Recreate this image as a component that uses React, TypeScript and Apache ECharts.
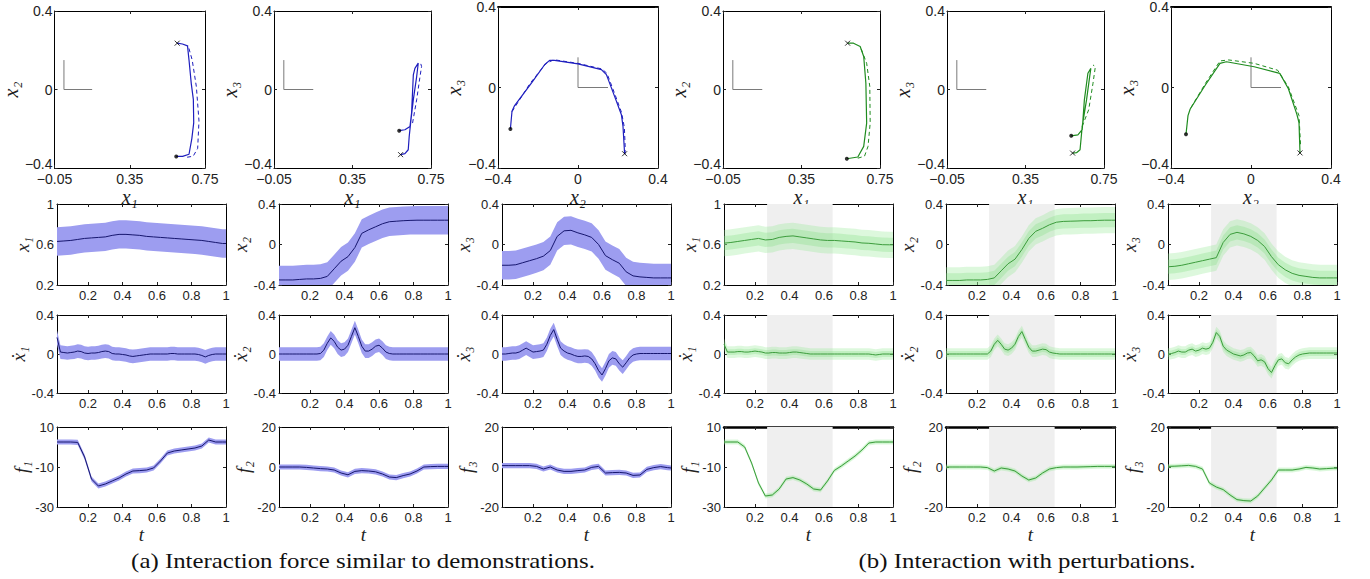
import React, { useEffect, useRef } from "react";
import * as echarts from "echarts";

// ---------------- data ----------------
// time grids
const TP = [0.02, 0.06, 0.10, 0.14, 0.18, 0.22, 0.26, 0.30, 0.34, 0.38, 0.42, 0.46, 0.50, 0.54, 0.58, 0.62, 0.66, 0.70, 0.74, 0.78, 0.82, 0.86, 0.90, 0.94, 0.98, 1.00];
const TV = [0.02, 0.04, 0.06, 0.08, 0.10, 0.12, 0.14, 0.16, 0.18, 0.20, 0.22, 0.24, 0.26, 0.28, 0.30, 0.32, 0.34, 0.36, 0.38, 0.40, 0.42, 0.44, 0.46, 0.48, 0.50, 0.52, 0.54, 0.56, 0.58, 0.60, 0.62, 0.64, 0.66, 0.68, 0.70, 0.72, 0.74, 0.76, 0.78, 0.80, 0.82, 0.84, 0.86, 0.88, 0.90, 0.92, 0.94, 0.96, 0.98, 1.00];

// tick labels
const TOP_XT_A = [-0.05, 0.35, 0.75];
const TOP_XT_B = [-0.4, 0, 0.4];
const TOP_YT = [-0.4, 0, 0.4];
const T_TICKS = [0.2, 0.4, 0.6, 0.8, 1];
const POS1_TICKS = [0.2, 0.6, 1];
const POS_TICKS = [-0.4, 0, 0.4];
const VEL_TICKS = [-0.4, 0, 0.4];
const F1_TICKS = [-30, -10, 10];
const F_TICKS = [-20, 0, 20];

// perturbation window (grey region)
const SHADE = [0.27, 0.65];

// reference frame drawn in the trajectory plots
const FRAME = [[0, 0.15], [0, 0], [0.15, 0]];

// (a) trajectories: solid = executed, dashed = reference
const trajA12 = [[0.597, -0.341], [0.631, -0.341], [0.665, -0.33], [0.68, -0.25], [0.69, -0.17], [0.688, -0.05], [0.677, 0.03], [0.665, 0.15], [0.657, 0.222], [0.63, 0.232], [0.602, 0.236]];
const refA12 = [[0.655, -0.345], [0.687, -0.34], [0.711, -0.3], [0.718, -0.16], [0.704, 0.015], [0.682, 0.15], [0.66, 0.225]];
const trajA13 = [[0.588, -0.21], [0.617, -0.205], [0.643, -0.188], [0.651, -0.12], [0.66, 0.075], [0.668, 0.108], [0.685, 0.134], [0.677, 0.066], [0.66, -0.052], [0.648, -0.154], [0.639, -0.239], [0.634, -0.307], [0.617, -0.327], [0.595, -0.332]];
const refA13 = [[0.656, -0.171], [0.677, -0.052], [0.694, 0.066], [0.702, 0.117], [0.697, 0.134], [0.685, 0.134]];
const trajA23 = [[-0.338, -0.206], [-0.33, -0.118], [-0.317, -0.09], [-0.233, 0.022], [-0.167, 0.113], [-0.142, 0.135], [-0.117, 0.135], [0, 0.117], [0.117, 0.089], [0.142, 0.064], [0.183, -0.044], [0.217, -0.135], [0.225, -0.193], [0.233, -0.329]];
const refA23 = [[-0.33, -0.12], [-0.24, 0.02], [-0.16, 0.12], [-0.12, 0.138], [0, 0.12], [0.12, 0.092], [0.145, 0.07], [0.185, -0.035], [0.218, -0.125], [0.232, -0.2], [0.236, -0.3], [0.235, -0.33]];

// (b) trajectories
const trajB12 = [[0.581, -0.353], [0.637, -0.344], [0.667, -0.29], [0.682, -0.171], [0.678, 0.032], [0.667, 0.168], [0.649, 0.219], [0.615, 0.236], [0.585, 0.236]];
const refB12 = [[0.637, -0.35], [0.671, -0.34], [0.689, -0.29], [0.70, -0.171], [0.698, 0.015], [0.682, 0.134], [0.649, 0.219]];
const trajB13 = [[0.583, -0.236], [0.617, -0.231], [0.639, -0.205], [0.65, -0.053], [0.668, 0.083], [0.683, 0.108], [0.677, 0.066], [0.661, -0.053], [0.639, -0.188], [0.628, -0.307], [0.61, -0.322], [0.59, -0.324]];
const refB13 = [[0.639, -0.188], [0.672, -0.103], [0.694, 0.032], [0.706, 0.117], [0.694, 0.125]];
const trajB23 = [[-0.325, -0.232], [-0.315, -0.14], [-0.304, -0.107], [-0.229, 0.011], [-0.155, 0.12], [-0.123, 0.128], [0.016, 0.103], [0.144, 0.07], [0.187, -0.006], [0.229, -0.132], [0.24, -0.174], [0.245, -0.325]];
const refB23 = [[-0.30, -0.1], [-0.229, 0.019], [-0.155, 0.132], [-0.112, 0.137], [0.016, 0.12], [0.133, 0.086], [0.187, 0.003], [0.24, -0.14], [0.248, -0.29]];

// (a) positions (on TP)
const x1A = [0.63, 0.635, 0.64, 0.65, 0.66, 0.665, 0.67, 0.675, 0.69, 0.70, 0.70, 0.695, 0.69, 0.68, 0.675, 0.67, 0.665, 0.66, 0.655, 0.65, 0.645, 0.64, 0.63, 0.62, 0.61, 0.61];
const x2A = [-0.35, -0.35, -0.35, -0.345, -0.34, -0.34, -0.335, -0.315, -0.24, -0.165, -0.12, -0.03, 0.11, 0.145, 0.175, 0.205, 0.225, 0.23, 0.235, 0.238, 0.24, 0.24, 0.24, 0.24, 0.24, 0.24];
const x3A = [-0.205, -0.205, -0.2, -0.18, -0.16, -0.14, -0.115, -0.06, 0.08, 0.135, 0.14, 0.115, 0.095, 0.07, 0.0, -0.11, -0.15, -0.185, -0.27, -0.31, -0.32, -0.325, -0.33, -0.33, -0.33, -0.33];
// (a) velocities (on TV)
const v1A = [0.17, 0.02, 0.015, 0.01, 0.015, 0.02, 0.03, 0.025, 0.01, 0.005, 0.01, 0.01, 0.015, 0.025, 0.03, 0.025, 0.005, 0.0, 0.0, -0.005, -0.01, -0.02, -0.025, -0.02, -0.015, -0.01, -0.005, 0.0, 0.0, 0.0, 0.0, 0.0, 0.0, 0.005, 0.005, 0.0, 0.0, 0.0, 0.0, 0.0, 0.0, -0.005, -0.015, -0.03, -0.015, -0.005, 0.0, 0.0, 0.0, 0.0];
const v2A = [0, 0, 0, 0, 0, 0, 0, 0, 0, 0, 0, 0, 0.005, 0.04, 0.11, 0.165, 0.13, 0.07, 0.04, 0.05, 0.09, 0.18, 0.27, 0.18, 0.08, 0.03, 0.03, 0.05, 0.08, 0.09, 0.06, 0.02, 0.005, 0, 0, 0, 0, 0, 0, 0, 0, 0, 0, 0, 0, 0, 0, 0, 0, 0];
const v3A = [0, 0, 0.005, 0.01, 0.01, 0.02, 0.04, 0.06, 0.04, 0.02, 0.025, 0.03, 0.04, 0.1, 0.19, 0.25, 0.15, 0.06, 0.03, 0.01, 0.0, -0.015, -0.025, -0.025, -0.02, -0.025, -0.05, -0.1, -0.17, -0.215, -0.15, -0.07, -0.04, -0.05, -0.1, -0.135, -0.09, -0.04, -0.01, 0.0, 0.005, 0.005, 0.005, 0.005, 0.005, 0.005, 0.005, 0.005, 0.005, 0.005];
// (a) forces (on TP)
const f1A = [2.5, 2.5, 2.5, 2.3, -5, -16, -19.5, -18.5, -17, -15.5, -13.5, -12, -11.8, -11.5, -10.5, -7, -3, -2, -1.5, -1, -0.5, 0.5, 3.5, 2.5, 2.5, 2.5];
const f2A = [0, 0, 0, 0, -0.2, -0.5, -0.8, -1, -1.5, -3, -3.9, -2.2, -1.8, -2, -2.4, -3.5, -5, -5.3, -4.3, -3.5, -2, 0, 0.2, 0.3, 0.3, 0.3];
const f3A = [0.7, 0.7, 0.7, 0.7, 0.7, 0.3, -1, 0, -1.5, -2.2, -2.2, -1.8, -1.5, -0.2, 0.3, -3, -2.8, -2.7, -3, -4.2, -4, -1.2, -0.3, 0.2, -0.3, -0.5];

// (b) positions (on TP)
const x1B = [0.613, 0.62, 0.63, 0.64, 0.65, 0.66, 0.645, 0.65, 0.67, 0.68, 0.685, 0.675, 0.665, 0.655, 0.645, 0.64, 0.64, 0.635, 0.63, 0.625, 0.615, 0.612, 0.605, 0.598, 0.597, 0.597];
const x2B = [-0.355, -0.355, -0.355, -0.35, -0.35, -0.35, -0.345, -0.33, -0.26, -0.19, -0.145, -0.05, 0.06, 0.13, 0.16, 0.195, 0.22, 0.228, 0.23, 0.232, 0.235, 0.235, 0.238, 0.24, 0.24, 0.24];
const x3B = [-0.22, -0.215, -0.205, -0.19, -0.175, -0.16, -0.145, -0.13, 0.02, 0.1, 0.12, 0.105, 0.08, 0.04, -0.02, -0.12, -0.2, -0.25, -0.285, -0.305, -0.315, -0.325, -0.33, -0.33, -0.33, -0.33];
// (b) velocities (on TV)
const v1B = [0.1, 0.02, 0.02, 0.02, 0.025, 0.025, 0.02, 0.02, 0.025, 0.03, 0.025, 0.02, 0.01, 0.01, 0.015, 0.015, 0.01, 0.01, 0.01, 0.015, 0.02, 0.02, 0.015, 0.01, 0.005, 0, 0, 0, 0, 0, 0, 0, 0, 0, 0, 0, 0, 0, 0, 0, 0, 0, 0, -0.005, -0.01, -0.005, 0, 0, 0, 0];
const v2B = [0, 0, 0, 0, 0, 0, 0, 0, 0, 0, 0, 0, 0, 0.03, 0.1, 0.14, 0.1, 0.05, 0.04, 0.06, 0.1, 0.18, 0.23, 0.15, 0.07, 0.03, 0.03, 0.04, 0.05, 0.045, 0.02, 0.01, 0.005, 0, 0, 0, 0, 0, 0, 0, 0, 0, 0, 0, 0, 0, 0, 0, 0, 0];
const v3B = [0, 0.005, 0.015, 0.03, 0.02, 0.02, 0.04, 0.05, 0.03, 0.04, 0.06, 0.05, 0.06, 0.12, 0.22, 0.18, 0.08, 0.04, 0.02, 0.0, -0.01, -0.02, -0.01, 0.01, 0.015, -0.02, -0.07, -0.06, -0.08, -0.15, -0.19, -0.12, -0.06, -0.05, -0.09, -0.1, -0.06, -0.03, -0.01, 0.0, 0.005, 0.01, 0.01, 0.01, 0.01, 0.01, 0.01, 0.01, 0.01, 0.01];
// (b) forces (on TP)
const f1B = [2.5, 2.5, 2.5, 0, -8, -18, -24.5, -24, -21, -16, -15.3, -16.5, -18.5, -21, -21.5, -17, -11.7, -9.5, -7, -4.5, -1.5, 2, 2.5, 2.5, 2.5, 2.5];
const f2B = [0, 0, 0, 0, 0, 0, -0.3, -2, -0.5, -1, -2, -4.5, -6.5, -5.5, -3, -1, -0.3, 0, 0, 0, 0.1, 0.2, 0.3, 0.3, 0.3, 0.3];
const f3B = [0.3, 0.4, 0.6, 0.8, 0.3, -1, -8, -10, -11.3, -14, -16.3, -16.8, -17, -14.5, -10.5, -6.5, -1.5, -1.5, -1.5, -1, -0.2, -0.5, -1, -0.8, -0.6, -0.6];

// band half-widths per row (positions, velocities, forces)
const BAND_A = [0.14, 0.07, 1.3];
const BAND_B_OUT = [0.13, 0.06, 1.2];
const BAND_B_IN = [0.07, 0.03, 0.6];

// ---------------- styling / layout ----------------
const BLUE_TRAJ = "#1e1ebe";
const GREEN_TRAJ = "#1f8c1f";
const BLUE_BAND = "#9d9df0";
const BLUE_LINE = "#16166e";
const GREEN_BAND_OUT = "rgba(150,232,150,0.32)";
const GREEN_BAND_IN = "rgba(130,222,130,0.30)";
const GREEN_LINE = "#3c9c3c";
const SANS = "'Liberation Sans', Arial, Helvetica, sans-serif";
const SERIF = "'Liberation Serif', 'Times New Roman', 'DejaVu Serif', serif";

const TOP_RECTS = [
  [48, 11, 157, 157],
  [274, 11, 157, 157],
  [498, 7, 160, 161],
  [723, 11, 157, 157],
  [947, 11, 157, 157],
  [1171, 7, 160, 161],
];
const COL_LEFT = [57, 279, 502, 724, 946, 1168];
const ROW_TOP = [204, 315, 427];
const ROW_H = [81, 78, 80];
const PLOT_W = 169;

const fmtTop = (v: number) => (v < 0 ? "\u2212" + String(-v) : String(v));
const fmtTopY = (v: number) => (v === TOP_YT[0] ? "{lo|" + fmtTop(v) + "}" : fmtTop(v));
const fmtRow = (v: number) => String(v);

function buildOption() {
  const grid: any[] = [];
  const xAxis: any[] = [];
  const yAxis: any[] = [];
  const series: any[] = [];

  function addPanel(rect: number[], xr: number[], yr: number[], xt: number[], yt: number[], fmtX: (v: number) => string, fmtY: (v: number) => string, fs: number, xname: string, yname: string, nc: any) {
    const g = grid.length;
    grid.push({ left: rect[0], top: rect[1], width: rect[2], height: rect[3] });
    const tick = (vals: number[]) => ({ show: true, inside: true, length: 3, customValues: vals, lineStyle: { color: "#222", width: 1 } });
    const line = { show: true, onZero: false, lineStyle: { color: "#000", width: 1 } };
    const topLine = { show: true, onZero: false, lineStyle: { color: "#000", width: nc.topW || 1 } };
    const nameStyle = { fontFamily: SERIF, fontStyle: "italic", fontSize: nc.size, color: "#222", lineHeight: nc.nlh };
    const lab = (vals: number[], margin: number, lh: number, fmt: (v: number) => string) => ({
      customValues: vals, formatter: fmt, fontSize: fs, lineHeight: lh, fontFamily: SANS, color: "#222", margin,
      rich: { lo: { fontSize: fs, lineHeight: lh, fontFamily: SANS, color: "#222", padding: [0, 0, 8, 0] } },
    });
    xAxis.push({ gridIndex: g, type: "value", min: xr[0], max: xr[1], position: "bottom", axisLine: line, axisTick: tick(xt), splitLine: { show: false }, axisLabel: lab(xt, nc.xm, nc.xlh, fmtX), name: xname, nameLocation: "middle", nameGap: nc.xg, nameTextStyle: nameStyle });
    xAxis.push({ gridIndex: g, type: "value", min: xr[0], max: xr[1], position: "top", axisLine: topLine, axisTick: tick(xt), axisLabel: { show: false }, splitLine: { show: false } });
    yAxis.push({ gridIndex: g, type: "value", min: yr[0], max: yr[1], position: "left", axisLine: line, axisTick: tick(yt), splitLine: { show: false }, axisLabel: lab(yt, nc.ym, nc.ylh, fmtY), name: yname, nameLocation: "middle", nameRotate: 90, nameGap: nc.yg, nameTextStyle: nameStyle });
    yAxis.push({ gridIndex: g, type: "value", min: yr[0], max: yr[1], position: "right", axisLine: line, axisTick: tick(yt), axisLabel: { show: false }, splitLine: { show: false } });
    return g;
  }

  const ax = (g: number) => ({ xAxisIndex: 2 * g, yAxisIndex: 2 * g });

  // band between mean-half and mean+half, drawn through the axes' scales
  function band(g: number, t: number[], mean: number[], half: number, color: string, z: number) {
    const lower = mean.map((m) => m - half);
    const upper = mean.map((m) => m + half);
    series.push({
      type: "custom",
      ...ax(g),
      coordinateSystem: "cartesian2d",
      data: [[t[0], mean[0]]],
      silent: true,
      clip: true,
      z,
      renderItem: (params: any, api: any) => {
        const pts: number[][] = [];
        for (let i = 0; i < t.length; i++) pts.push(api.coord([t[i], upper[i]]));
        for (let i = t.length - 1; i >= 0; i--) pts.push(api.coord([t[i], lower[i]]));
        const cs = params.coordSys;
        return {
          type: "polygon",
          shape: { points: pts },
          style: { fill: color },
          clipPath: { type: "rect", shape: { x: cs.x, y: cs.y, width: cs.width, height: cs.height } },
        };
      },
    });
  }

  // ---- top row: trajectories ----
  const topPanels = [
    { traj: trajA12, ref: refA12, xt: TOP_XT_A, xn: "x\u2081", yn: "x\u2082", c: BLUE_TRAJ },
    { traj: trajA13, ref: refA13, xt: TOP_XT_A, xn: "x\u2081", yn: "x\u2083", c: BLUE_TRAJ },
    { traj: trajA23, ref: refA23, xt: TOP_XT_B, xn: "x\u2082", yn: "x\u2083", c: BLUE_TRAJ },
    { traj: trajB12, ref: refB12, xt: TOP_XT_A, xn: "x\u2081", yn: "x\u2082", c: GREEN_TRAJ },
    { traj: trajB13, ref: refB13, xt: TOP_XT_A, xn: "x\u2081", yn: "x\u2083", c: GREEN_TRAJ },
    { traj: trajB23, ref: refB23, xt: TOP_XT_B, xn: "x\u2082", yn: "x\u2083", c: GREEN_TRAJ },
  ];
  topPanels.forEach((p, i) => {
    const xr = [p.xt[0], p.xt[p.xt.length - 1]];
    const g = addPanel(TOP_RECTS[i], xr, [TOP_YT[0], TOP_YT[2]], p.xt, TOP_YT, fmtTop, fmtTopY, 14, p.xn, p.yn, { size: 20, nlh: 14, xg: 18, yg: 24, xm: 4, ym: 2, xlh: 14, ylh: 14, topW: i === 2 || i === 5 ? 1.8 : 1 });
    series.push({ type: "line", ...ax(g), data: FRAME, symbol: "none", lineStyle: { color: "#7a7a7a", width: 1 }, silent: true, z: 2 });
    series.push({ type: "line", ...ax(g), data: p.ref, symbol: "none", lineStyle: { color: p.c, width: 1, type: [4, 3] }, silent: true, z: 3 });
    series.push({ type: "line", ...ax(g), data: p.traj, symbol: "none", lineStyle: { color: p.c, width: 1.2 }, silent: true, z: 4 });
    series.push({ type: "scatter", ...ax(g), data: [p.traj[0]], symbol: "circle", symbolSize: 4, itemStyle: { color: "#000" }, silent: true, z: 5 });
    series.push({ type: "scatter", ...ax(g), data: [p.traj[p.traj.length - 1]], symbol: "path://M0 0L10 10M10 0L0 10", symbolSize: 5, itemStyle: { color: "none", borderColor: "#000", borderWidth: 1 }, silent: true, z: 5 });
  });

  // ---- rows 2-4: time series ----
  const rows = [
    { t: TP, a: [x1A, x2A, x3A], b: [x1B, x2B, x3B], names: ["x\u2081", "x\u2082", "x\u2083"], yr: [[0.2, 1], [-0.4, 0.4], [-0.4, 0.4]], yt: [POS1_TICKS, POS_TICKS, POS_TICKS] },
    { t: TV, a: [v1A, v2A, v3A], b: [v1B, v2B, v3B], names: ["x\u0307\u2081", "x\u0307\u2082", "x\u0307\u2083"], yr: [[-0.4, 0.4], [-0.4, 0.4], [-0.4, 0.4]], yt: [VEL_TICKS, VEL_TICKS, VEL_TICKS] },
    { t: TP, a: [f1A, f2A, f3A], b: [f1B, f2B, f3B], names: ["f\u2081", "f\u2082", "f\u2083"], yr: [[-30, 10], [-20, 20], [-20, 20]], yt: [F1_TICKS, F_TICKS, F_TICKS] },
  ];

  rows.forEach((row, r) => {
    for (let c = 0; c < 6; c++) {
      const k = c % 3;
      const perturbed = c >= 3;
      const mean = perturbed ? row.b[k] : row.a[k];
      const rect = [COL_LEFT[c], ROW_TOP[r], PLOT_W, ROW_H[r]];
      const g = addPanel(rect, [0.02, 1], row.yr[k], T_TICKS, row.yt[k], fmtRow, fmtRow, 13, r === 2 ? "t" : "", row.names[k], { size: 19, nlh: 19, xg: 14, yg: 22, xm: 4, ym: 3, xlh: 13, ylh: 11, topW: r === 2 && perturbed ? 2.5 : 1 });
      const meanData = row.t.map((tt, i) => [tt, mean[i]]);
      if (!perturbed) {
        band(g, row.t, mean, BAND_A[r], BLUE_BAND, 2);
      } else {
        series.push({
          type: "line", ...ax(g), data: meanData, symbol: "none", lineStyle: { opacity: 0, width: 0 }, silent: true, z: 1,
          markArea: { silent: true, itemStyle: { color: "#efefef" }, data: [[{ xAxis: SHADE[0] }, { xAxis: SHADE[1] }]] },
        });
        band(g, row.t, mean, BAND_B_OUT[r], GREEN_BAND_OUT, 2);
        band(g, row.t, mean, BAND_B_IN[r], GREEN_BAND_IN, 3);
      }
      series.push({ type: "line", ...ax(g), data: meanData, symbol: "none", lineStyle: { color: perturbed ? GREEN_LINE : BLUE_LINE, width: 1 }, silent: true, z: 6 });
    }
  });

  return {
    animation: false,
    backgroundColor: "#ffffff",
    grid,
    xAxis,
    yAxis,
    series,
    graphic: [
      { type: "text", x: 363, y: 561, scaleX: 1.13, style: { text: "(a) Interaction force similar to demonstrations.", fontSize: 22, fontFamily: SERIF, fill: "#111", align: "center", verticalAlign: "middle" } },
      { type: "text", x: 1027, y: 561, scaleX: 1.13, style: { text: "(b) Interaction with perturbations.", fontSize: 22, fontFamily: SERIF, fill: "#111", align: "center", verticalAlign: "middle" } },
    ],
  };
}

export default function App() {
  const ref = useRef<HTMLDivElement>(null);
  useEffect(() => {
    if (!ref.current) return;
    const chart = echarts.init(ref.current, undefined, { renderer: "svg" });
    chart.setOption(buildOption() as any);
    return () => chart.dispose();
  }, []);
  return <div ref={ref} style={{ position: "fixed", left: 0, top: 0, width: 1370, height: 579, background: "#fff" }} />;
}
